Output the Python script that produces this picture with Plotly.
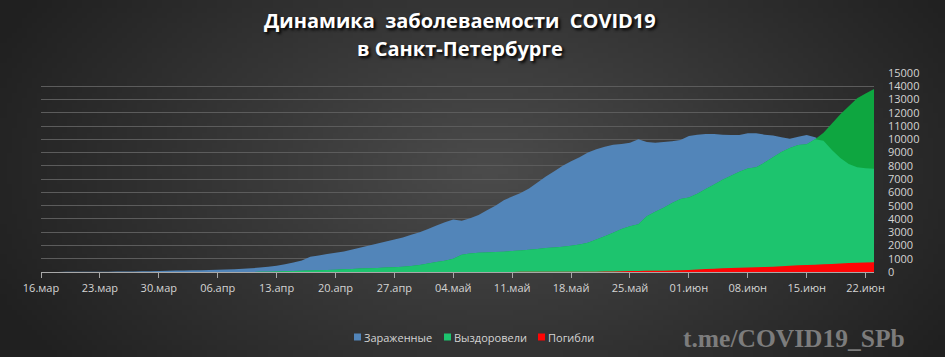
import math, zlib, struct, base64
import pandas as pd
import plotly.graph_objects as go

# ---------------- data ----------------
start_date = "2020-03-16"

infected = [5, 6, 8, 10, 13, 15, 18, 20, 25, 30, 35, 40, 50, 60,
            70, 90, 110, 120, 130, 140, 150, 170, 190, 210, 240, 280, 330, 390, 480, 580,
            720, 870, 1150, 1250, 1350, 1450, 1550, 1700, 1850, 2000,
            2150, 2300, 2450, 2600, 2800, 3000, 3250, 3500, 3750, 3950,
            3870, 4050, 4300, 4650, 5000, 5400, 5700, 5950, 6300, 6750,
            7200, 7600, 8000, 8350, 8650, 9000, 9250, 9450, 9600, 9650,
            9750, 10000, 9800, 9750, 9800, 9850, 9950, 10250, 10350, 10400,
            10400, 10350, 10320, 10320, 10450, 10450, 10350, 10280, 10150, 10050,
            10200, 10330, 10150, 9900, 9200, 8600, 8150, 7900, 7820, 7780]

recovered = [0] * 25 + [5, 10, 20, 40, 60,
             80, 100, 110, 130, 150, 170, 200, 230, 260, 280,
             300, 330, 360, 400, 450, 520, 650, 750, 850, 1000,
             1300, 1400, 1450, 1470, 1500, 1530, 1580, 1620, 1680, 1730,
             1800, 1850, 1900, 1980, 2080, 2200, 2450, 2700, 2950, 3250,
             3450, 3600, 4200, 4550, 4850, 5200, 5500, 5620, 5900, 6250,
             6600, 6950, 7250, 7550, 7800, 7900, 8250, 8650, 9050, 9350,
             9580, 9620, 10000, 10500, 11200, 11900, 12500, 13100, 13450, 13800]

deaths = [0] * 40 + [1, 1, 2, 2, 3, 3, 4, 4, 5, 5, 6, 6, 7, 7, 8, 8, 9, 10, 11, 12,
                     13, 14, 15, 16, 18, 20,
                     25, 35, 45, 55, 70, 80, 90, 95, 100, 110,
                     130, 160, 190, 220, 250, 280, 300, 325, 345, 365,
                     385, 400, 430, 480, 500, 525, 550, 580, 610, 640,
                     670, 690, 710, 730]

tick_dates = ["2020-03-16", "2020-03-23", "2020-03-30", "2020-04-06", "2020-04-13",
              "2020-04-20", "2020-04-27", "2020-05-04", "2020-05-11", "2020-05-18",
              "2020-05-25", "2020-06-01", "2020-06-08", "2020-06-15", "2020-06-22"]
tick_labels = ["16.мар", "23.мар", "30.мар", "06.апр", "13.апр", "20.апр", "27.апр",
               "04.май", "11.май", "18.май", "25.май", "01.июн", "08.июн", "15.июн", "22.июн"]

series_names = ["Зараженные", "Выздоровели", "Погибли"]
title_lines = ["Динамика&nbsp; заболеваемости&nbsp; COVID19", "в Санкт-Петербурге"]
watermark = "t.me/COVID19_SPb"

assert len(infected) == len(recovered) == len(deaths) == 100
dates = pd.date_range(start_date, periods=len(infected), freq="D")

# ---------------- layout geometry ----------------
W, H = 945, 357
ML, MR, MT, MB = 41, 71, 73, 85
PW, PH = W - ML - MR, H - MT - MB

def px_x(x):
    return (x - ML) / PW

def px_y(y):
    return (H - MB - y) / PH

# ---------------- background gradient image ----------------
def gradient_png(w, h, scale_x, scale_y):
    raw = b""
    for j in range(h):
        raw += b"\x00"
        py = (j + 0.5) * scale_y
        for i in range(w):
            px = (i + 0.5) * scale_x
            r = math.sqrt(((px - 490) / 540) ** 2 + ((py - 170) / 320) ** 2)
            r = min(r, 1.0)
            v = int(round(0x4b - r * (0x4b - 0x20)))
            raw += bytes([v])
    def chunk(tag, data):
        c = struct.pack(">I", len(data)) + tag + data
        return c + struct.pack(">I", zlib.crc32(tag + data) & 0xFFFFFFFF)
    png = b"\x89PNG\r\n\x1a\n"
    png += chunk(b"IHDR", struct.pack(">IIBBBBB", w, h, 8, 0, 0, 0, 0))
    png += chunk(b"IDAT", zlib.compress(raw, 9))
    png += chunk(b"IEND", b"")
    return "data:image/png;base64," + base64.b64encode(png).decode()

bg_src = gradient_png(189, 71, W / 189, H / 71)

# ---------------- traces ----------------
BLUE, GREEN_DARK, GREEN_LIGHT, RED = "#5285B9", "#0EA640", "#1DC46E", "#FF0505"

fig = go.Figure()
# infected (drawn first, underneath)
fig.add_trace(go.Scatter(x=dates, y=infected, name=series_names[0], mode="none",
                         fill="tozeroy", fillcolor=BLUE, hoverinfo="skip"))
# recovered: where it rises above the infected area it is seen on the dark background
fig.add_trace(go.Scatter(x=dates, y=recovered, name=series_names[1], mode="none",
                         fill="tozeroy", fillcolor=GREEN_DARK, hoverinfo="skip"))
# recovered seen over the infected area (semi-transparent look of the original)
overlap = [min(a, b) for a, b in zip(infected, recovered)]
fig.add_trace(go.Scatter(x=dates, y=overlap, name=series_names[1], mode="none",
                         fill="tozeroy", fillcolor=GREEN_LIGHT, hoverinfo="skip"))
fig.add_trace(go.Scatter(x=dates, y=deaths, name=series_names[2], mode="none",
                         fill="tozeroy", fillcolor=RED, hoverinfo="skip"))

axis_font = dict(family="Open Sans, sans-serif", size=11, color="#d4d4d4")

fig.update_layout(
    width=W, height=H,
    margin=dict(l=ML, r=MR, t=MT, b=MB, pad=0),
    paper_bgcolor="#2e2e2e",
    plot_bgcolor="rgba(0,0,0,0)",
    showlegend=False,
    xaxis=dict(
        range=[dates[0], dates[-1]],
        tickvals=tick_dates, ticktext=tick_labels,
        showgrid=False, zeroline=False,
        showline=True, linecolor="#a8a8a8", linewidth=1,
        ticks="outside", ticklen=5, tickcolor="#a8a8a8", tickwidth=1,
        tickfont=axis_font, ticklabelstandoff=1,
    ),
    yaxis=dict(
        side="right", range=[0, 15000], dtick=1000, tick0=0, tickformat="d",
        showgrid=True, gridcolor="#5c5c5c", gridwidth=1,
        zeroline=False, showline=False, ticks="",
        tickfont=axis_font, ticklabelstandoff=13,
    ),
    images=[dict(
        source=bg_src, xref="paper", yref="paper",
        x=-ML / PW, y=1 + MT / PH, sizex=W / PW, sizey=H / PH,
        xanchor="left", yanchor="top", sizing="stretch", layer="below")],
)

# ---------------- title ----------------
title_font = dict(family="Open Sans, sans-serif", size=20, color="#ffffff",
                  weight="bold", shadow="2px 2px 3px #000000")
for line, cy in zip(title_lines, [20, 48]):
    fig.add_annotation(text=line, xref="paper", yref="paper",
                       x=px_x(460), y=px_y(cy), xanchor="center", yanchor="middle",
                       showarrow=False, font=title_font)

# ---------------- manual legend ----------------
legend_items = [(354, BLUE), (444, GREEN_LIGHT), (538, RED)]
ly = 337
for (sx, col), name in zip(legend_items, series_names):
    fig.add_shape(type="rect", xref="paper", yref="paper",
                  x0=px_x(sx), x1=px_x(sx + 7), y0=px_y(ly + 3.5), y1=px_y(ly - 3.5),
                  fillcolor=col, line=dict(width=0))
    fig.add_annotation(text=name, xref="paper", yref="paper",
                       x=px_x(sx + 8), y=px_y(ly), xanchor="left", yanchor="middle",
                       showarrow=False,
                       font=dict(family="Open Sans, sans-serif", size=11, color="#d4d4d4"))

fig.add_annotation(text=watermark, xref="paper", yref="paper",
                   x=px_x(794), y=px_y(338), xanchor="center", yanchor="middle",
                   showarrow=False,
                   font=dict(family="Liberation Serif, serif", size=25.5, color="#7c7c7c",
                             weight="bold"))

fig.write_html("out.html")
